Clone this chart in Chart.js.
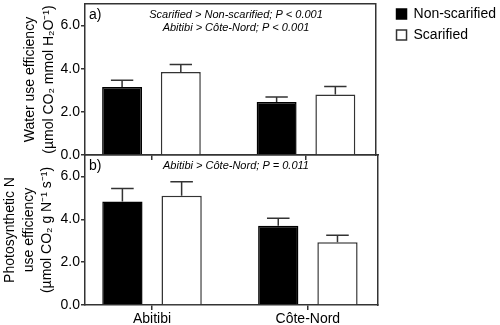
<!DOCTYPE html>
<html>
<head>
<meta charset="utf-8">
<script src="https://cdn.jsdelivr.net/npm/chart.js@4.4.1/dist/chart.umd.min.js"></script>
<style>
  html, body { margin: 0; padding: 0; background: #fff; }
  #wrap { position: relative; width: 500px; height: 325px; }
  canvas { position: absolute; left: 0; }
</style>
</head>
<body>
<div id="wrap">
  <canvas id="pnue" width="500" height="175" style="top:150px"></canvas>
  <canvas id="wue" width="500" height="170" style="top:0"></canvas>
</div>
<script>
// values (mean and SE)
const sites = ['Abitibi', 'Côte-Nord'];
const treatments = ['Non-scarified', 'Scarified'];
const yTicks = [0, 2, 4, 6];

const wueNonScar = [3.15, 2.46];
const wueNonScarErr = [0.31, 0.23];
const wueScar = [3.85, 2.80];
const wueScarErr = [0.35, 0.38];

const pnueNonScar = [4.83, 3.70];
const pnueNonScarErr = [0.61, 0.35];
const pnueScar = [5.10, 2.93];
const pnueScarErr = [0.65, 0.32];

Chart.defaults.font.family = '"Liberation Sans", Arial, Helvetica, sans-serif';
Chart.defaults.font.size = 14;
Chart.defaults.color = '#000';

const lineCol = '#333';

function makeDataset(label, values, errors, fill, edge) {
    return {
        label: label,
        data: values.map((v, i) => ({ x: i, y: v })),
        errors: errors,
        backgroundColor: fill,
        borderColor: edge,
        borderWidth: 1.5,
        categoryPercentage: 0.76,
        barPercentage: 0.68,
        xAxisID: 'x',
        yAxisID: 'y',
    };
}

// upper whiskers only
const errorBars = {
    id: 'errorBars',
    afterDatasetsDraw(chart) {
        const ctx = chart.ctx;
        const yScale = chart.scales.y;
        ctx.save();
        ctx.strokeStyle = lineCol;
        ctx.lineWidth = 1.5;
        chart.data.datasets.forEach((ds, di) => {
            chart.getDatasetMeta(di).data.forEach((bar, i) => {
                const top = yScale.getPixelForValue(ds.data[i].y + ds.errors[i]);
                const half = bar.width * 0.28;
                ctx.beginPath();
                ctx.moveTo(bar.x, bar.y);
                ctx.lineTo(bar.x, top);
                ctx.moveTo(bar.x - half, top);
                ctx.lineTo(bar.x + half, top);
                ctx.stroke();
            });
        });
        ctx.restore();
    }
};

const panelNotes = {
    id: 'panelNotes',
    afterDraw(chart, args, opts) {
        const { ctx, chartArea } = chart;
        ctx.save();
        ctx.fillStyle = '#000';
        ctx.textBaseline = 'middle';
        ctx.textAlign = 'left';
        ctx.font = '14px "Liberation Sans", Arial, sans-serif';
        ctx.fillText(opts.tag, chartArea.left + 4, chartArea.top + 11);
        ctx.font = 'italic 11px "Liberation Sans", Arial, sans-serif';
        ctx.textAlign = 'center';
        opts.lines.forEach((line, k) => {
            ctx.fillText(line, chartArea.left + 151, chartArea.top + 11 + k * 13);
        });
        ctx.restore();
    }
};

function buildScales(o) {
    return {
        x: {
            type: 'linear',
            min: -0.43,
            max: 1.45,
            bounds: 'data',
            offset: false,
            afterBuildTicks: s => { s.ticks = sites.map((_, i) => ({ value: i })); },
            afterFit: s => { s.height = o.xHeight; s.paddingLeft = 0; s.paddingRight = 0; },
            ticks: { display: o.showSites, callback: v => sites[v], padding: 1, maxRotation: 0 },
            grid: { offset: false, drawOnChartArea: false, tickLength: 5, color: lineCol, lineWidth: 1.5 },
            border: { color: lineCol, width: 1.5 },
        },
        y: {
            min: 0,
            max: 7,
            afterBuildTicks: s => { s.ticks = yTicks.map(v => ({ value: v })); },
            afterFit: s => { s.width = 85 - o.left; s.paddingTop = 0; s.paddingBottom = 0; },
            ticks: { callback: v => v.toFixed(1), padding: 1 },
            grid: { drawOnChartArea: false, tickLength: 4, color: lineCol, lineWidth: 1.5 },
            border: { color: lineCol, width: 1.5 },
            title: { display: true, text: o.title, font: { lineHeight: 1.32 }, padding: 0 },
        },
        xTop: {
            type: 'linear',
            position: 'top',
            ticks: { display: false },
            grid: { display: false },
            border: { color: lineCol, width: 1.5 },
            afterFit: s => { s.height = o.topGap; },
        },
        yRight: {
            type: 'linear',
            position: 'right',
            ticks: { display: false },
            grid: { display: false },
            border: { color: lineCol, width: 1.5 },
            afterFit: s => { s.width = o.rightGap; },
        },
    };
}

new Chart(document.getElementById('wue').getContext('2d'), {
    type: 'bar',
    data: {
        datasets: [
            makeDataset(treatments[0], wueNonScar, wueNonScarErr, '#000', '#000'),
            makeDataset(treatments[1], wueScar, wueScarErr, '#fff', lineCol),
        ]
    },
    options: {
        responsive: false,
        animation: false,
        devicePixelRatio: 1,
        layout: { padding: { left: 21, right: -6, top: 0, bottom: 0 } },
        scales: buildScales({
            xHeight: 15, showSites: false, topGap: 4, rightGap: 14, left: 21,
            title: ['Water use efficiency', '(µmol CO₂ mmol H₂O⁻¹)'],
        }),
        plugins: {
            legend: {
                position: 'right',
                align: 'start',
                maxWidth: 140,
                labels: { boxWidth: 10, boxHeight: 10, padding: 7 },
            },
            tooltip: { enabled: false },
            panelNotes: {
                tag: 'a)',
                lines: ['Scarified > Non-scarified; P < 0.001', 'Abitibi > Côte-Nord; P < 0.001'],
            },
        }
    },
    plugins: [errorBars, panelNotes]
});

new Chart(document.getElementById('pnue').getContext('2d'), {
    type: 'bar',
    data: {
        datasets: [
            makeDataset(treatments[0], pnueNonScar, pnueNonScarErr, '#000', '#000'),
            makeDataset(treatments[1], pnueScar, pnueScarErr, '#fff', lineCol),
        ]
    },
    options: {
        responsive: false,
        animation: false,
        devicePixelRatio: 1,
        layout: { padding: { left: 1, right: 0, top: 0, bottom: 0 } },
        scales: buildScales({
            xHeight: 20, showSites: true, topGap: 5, rightGap: 122, left: 1,
            title: ['Photosynthetic N', 'use efficiency', '(µmol CO₂ g N⁻¹ s⁻¹)'],
        }),
        plugins: {
            legend: { display: false },
            tooltip: { enabled: false },
            panelNotes: {
                tag: 'b)',
                lines: ['Abitibi > Côte-Nord; P = 0.011'],
            },
        }
    },
    plugins: [errorBars, panelNotes]
});
</script>
</body>
</html>
